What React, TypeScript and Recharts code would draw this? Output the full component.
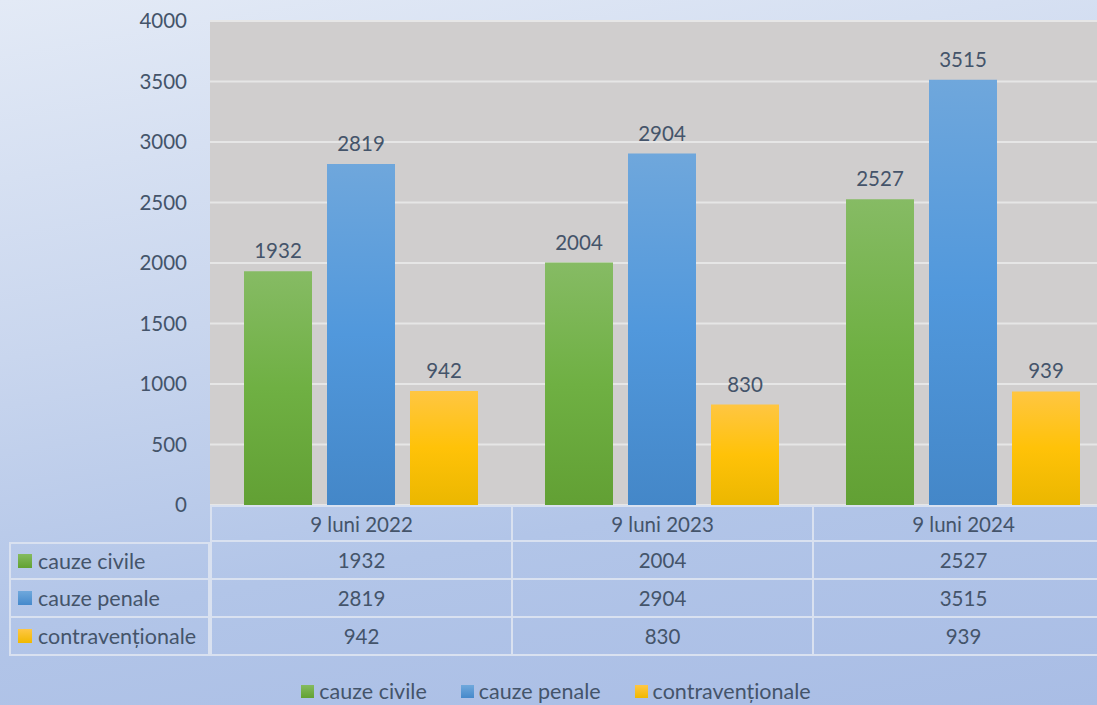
import { Bar, BarChart, CartesianGrid, LabelList, XAxis, YAxis } from "recharts";

const periods = ["9 luni 2022", "9 luni 2023", "9 luni 2024"];
const civile = [1932, 2004, 2527];
const penale = [2819, 2904, 3515];
const contraventionale = [942, 830, 939];
const yTicks = [0, 500, 1000, 1500, 2000, 2500, 3000, 3500, 4000];

const series = [
  { key: "civile", name: "cauze civile", values: civile, grad: "gradGreen", swatch: "linear-gradient(#85bb5f, #62a232)" },
  { key: "penale", name: "cauze penale", values: penale, grad: "gradBlue", swatch: "linear-gradient(#6fa8dc, #4589cb)" },
  { key: "contra", name: "contravenționale", values: contraventionale, grad: "gradYellow", swatch: "linear-gradient(#ffc745, #f0b800)" },
];

const data = periods.map((p, i) => ({
  period: p,
  civile: civile[i],
  penale: penale[i],
  contra: contraventionale[i],
}));

const TEXT = "#44546a";
const FONT = "Lato, 'Open Sans', sans-serif";
const BORDER = "#d9e1f0";
const NUM_SIZE = 20.5;
const LABEL_SIZE = 21.5;

const PLOT_LEFT = 210;
const COL_W = 301;
const PLOT_BOTTOM = 505;
const ROW_H = [37, 38, 38, 38];

function DataTable() {
  const rows = [null, ...series];
  let top = PLOT_BOTTOM;
  const cells: JSX.Element[] = [];
  rows.forEach((s, r) => {
    const h = ROW_H[r];
    if (s) {
      cells.push(
        <div
          key={`lab-${r}`}
          style={{
            position: "absolute",
            left: 9,
            top,
            width: PLOT_LEFT - 9,
            height: h,
            boxSizing: "border-box",
            border: `2px solid ${BORDER}`,
            borderTop: r === 1 ? `2px solid ${BORDER}` : "none",
            display: "flex",
            alignItems: "center",
            paddingLeft: 7,
            fontSize: LABEL_SIZE,
          }}
        >
          <span style={{ width: 14, height: 14, background: s.swatch, marginRight: 6, display: "inline-block", flexShrink: 0 }} />
          <span>{s.name}</span>
        </div>
      );
    }
    periods.forEach((p, c) => {
      cells.push(
        <div
          key={`c-${r}-${c}`}
          style={{
            position: "absolute",
            left: PLOT_LEFT + c * COL_W,
            top,
            width: COL_W,
            height: h,
            boxSizing: "border-box",
            borderLeft: `2px solid ${BORDER}`,
            borderBottom: `2px solid ${BORDER}`,
            borderTop: r === 0 ? `2px solid ${BORDER}` : "none",
            display: "flex",
            alignItems: "center",
            justifyContent: "center",
            fontSize: s ? NUM_SIZE : LABEL_SIZE - 1,
          }}
        >
          {s ? s.values[c] : p}
        </div>
      );
    });
    top += h;
  });
  return <>{cells}</>;
}

function BottomLegend() {
  return (
    <div
      style={{
        position: "absolute",
        top: 678,
        left: 0,
        width: 1112,
        display: "flex",
        justifyContent: "center",
        gap: 34,
        fontSize: LABEL_SIZE,
      }}
    >
      {series.map((s) => (
        <div key={s.key} style={{ display: "flex", alignItems: "center" }}>
          <span style={{ width: 13, height: 13, background: s.swatch, marginRight: 5, display: "inline-block" }} />
          <span>{s.name}</span>
        </div>
      ))}
    </div>
  );
}

export default function App() {
  return (
    <div
      style={{
        position: "absolute",
        left: 0,
        top: 0,
        width: 1097,
        height: 705,
        overflow: "hidden",
        background: "linear-gradient(170deg, #e3eaf6 0%, #c9d6ee 40%, #b2c5e8 70%, #a9bde5 100%)",
        fontFamily: FONT,
        fontSize: NUM_SIZE,
        color: TEXT,
      }}
    >
      <BarChart
        width={1120}
        height={705}
        data={data}
        margin={{ top: 21, right: 7, bottom: 200, left: 0 }}
        barSize={68}
        barGap={15}
      >
        <defs>
          <linearGradient id="gradGreen" x1="0" y1="0" x2="0" y2="1">
            <stop offset="0%" stopColor="#86bb64" />
            <stop offset="50%" stopColor="#6fb043" />
            <stop offset="100%" stopColor="#62a034" />
          </linearGradient>
          <linearGradient id="gradBlue" x1="0" y1="0" x2="0" y2="1">
            <stop offset="0%" stopColor="#6fa7dc" />
            <stop offset="50%" stopColor="#5198dc" />
            <stop offset="100%" stopColor="#4487c8" />
          </linearGradient>
          <linearGradient id="gradYellow" x1="0" y1="0" x2="0" y2="1">
            <stop offset="0%" stopColor="#ffc642" />
            <stop offset="50%" stopColor="#ffc208" />
            <stop offset="100%" stopColor="#ebb700" />
          </linearGradient>
        </defs>
        <CartesianGrid vertical={false} stroke="#e6e6e6" strokeWidth={2} fill="#d0cece" fillOpacity={1} />
        <XAxis dataKey="period" hide />
        <YAxis
          width={PLOT_LEFT}
          domain={[0, 4000]}
          ticks={yTicks}
          axisLine={false}
          tickLine={false}
          tickMargin={17}
          tick={{ fill: TEXT, fontSize: NUM_SIZE, fontFamily: FONT }}
        />
        {series.map((s) => (
          <Bar key={s.key} dataKey={s.key} name={s.name} fill={`url(#${s.grad})`} isAnimationActive={false}>
            <LabelList dataKey={s.key} position="top" offset={13} fill={TEXT} fontSize={NUM_SIZE} fontFamily={FONT} />
          </Bar>
        ))}
      </BarChart>
      <DataTable />
      <BottomLegend />
    </div>
  );
}
